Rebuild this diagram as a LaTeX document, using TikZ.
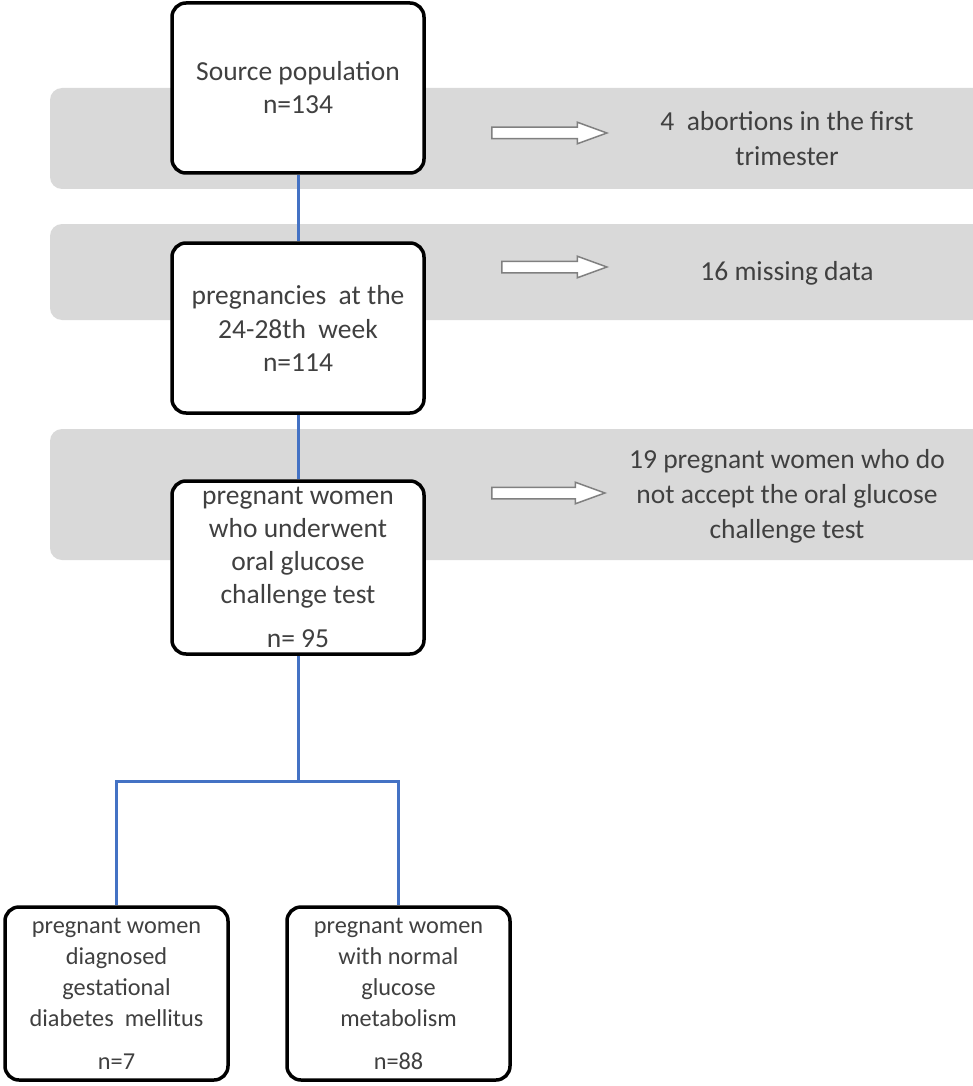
\documentclass[tikz,border=0pt]{standalone}
\usepackage{fontspec}
\setmainfont{Carlito}
\usetikzlibrary{shapes.arrows}
\definecolor{bandgray}{HTML}{D9D9D9}
\definecolor{txtgray}{HTML}{404040}
\definecolor{linkblue}{HTML}{4472C4}
\definecolor{arrowgray}{HTML}{808080}
\tikzset{
  stage/.style={draw=black, line width=3.5pt, rounded corners=14pt, fill=white,
    minimum width=252pt, align=center, text=txtgray, inner sep=0pt,
    font=\fontsize{27.5}{33}\selectfont},
  leaf/.style={stage, minimum width=223pt, minimum height=173pt,
    font=\fontsize{24.3}{31}\selectfont},
  band/.style={fill=bandgray},
  link/.style={draw=linkblue, line width=3pt},
  exarrow/.style={single arrow, draw=arrowgray, fill=white, line width=1.5pt,
    inner xsep=0pt, inner ysep=5pt, minimum width=21pt,
    single arrow head extend=5pt, single arrow tip angle=40},
  note/.style={align=center, text=txtgray, font=\fontsize{27.5}{35}\selectfont, inner sep=0pt}
}
\begin{document}
\begin{tikzpicture}[x=1pt,y=-1pt]
\useasboundingbox (0,0) rectangle (973,1086);
% bands
\fill[band] (973,88) [rounded corners=12pt]-- (50,88) -- (50,189) [sharp corners]-- (973,189) -- cycle;
\fill[band] (973,224) [rounded corners=12pt]-- (50,224) -- (50,320) [sharp corners]-- (973,320) -- cycle;
\fill[band] (973,429) [rounded corners=12pt]-- (50,429) -- (50,560) [sharp corners]-- (973,560) -- cycle;
% main boxes
\node[stage, minimum height=170pt] (b1) at (298,88) {Source population\\n=134};
\node[stage, minimum height=170pt] (b2) at (298,328) {pregnancies\ \ at the\\[1pt]24-28th\ \ week\\n=114};
\node[stage, minimum height=173pt] (b3) at (298,567.5) {pregnant women\\who underwent\\oral glucose\\challenge test\\[11pt]n= 95};
\node[leaf] (c1) at (116.5,993.5) {pregnant women\\diagnosed\\gestational\\diabetes\ \ mellitus\\[12pt]n=7};
\node[leaf] (c2) at (398.5,993.5) {pregnant women\\with normal\\glucose\\metabolism\\[12pt]n=88};
% connectors
\coordinate (j) at (298,781);
\draw[link] (b1.south) -- (b2.north);
\draw[link] (b2.south) -- (b3.north);
\draw[link] (b3.south) -- (j);
\draw[link] (c1.north) |- (j) -| (c2.north);
% exclusion arrows and notes
\node[exarrow, minimum height=115pt] (a1) at (541.5,133) {};
\node[exarrow, minimum height=105pt] (a2) at (546.5,267) {};
\node[exarrow, minimum height=113pt] (a3) at (540.5,493) {};
\node[note] (t1) at (787,139) {4\ \ abortions in the first\\trimester};
\node[note] (t2) at (787,273) {16 missing data};
\node[note] (t3) at (787,496) {19 pregnant women who do\\not accept the oral glucose\\challenge test};
\end{tikzpicture}
\end{document}
